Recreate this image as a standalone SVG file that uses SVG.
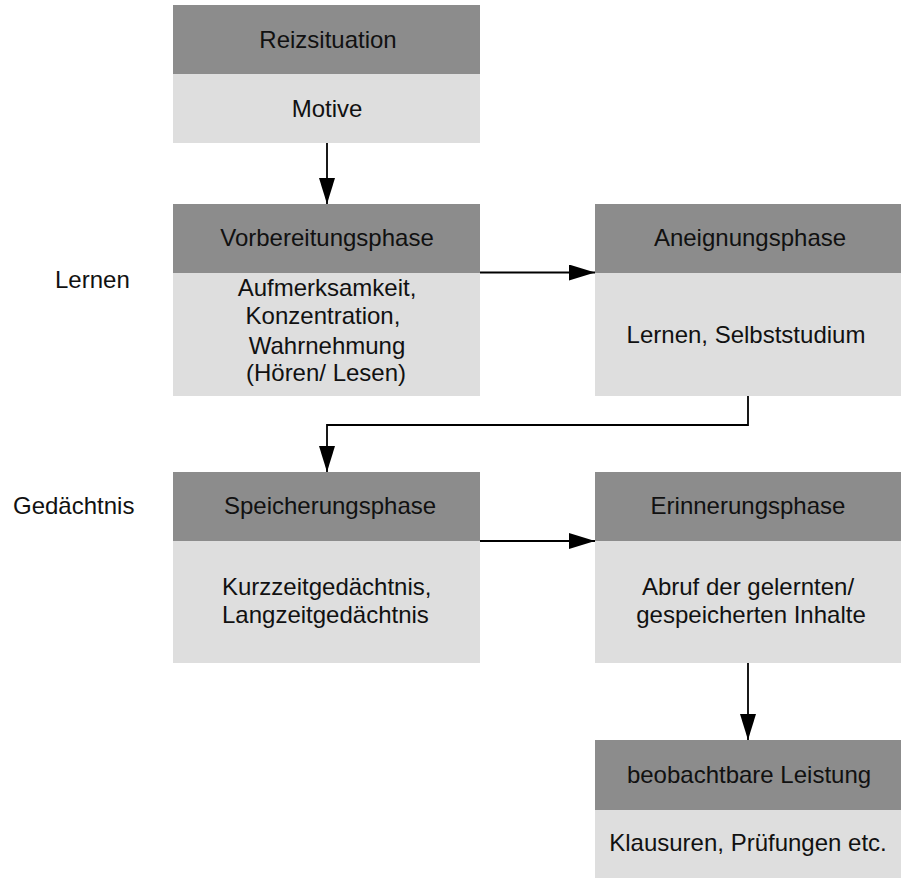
<svg xmlns="http://www.w3.org/2000/svg" width="901" height="878" viewBox="0 0 901 878">
  <style>
    .hd { fill: #8c8c8c; }
    .bd { fill: #dedede; }
    text { font-family: "Liberation Sans", Arial, sans-serif; font-size: 24px; fill: #111; }
    .c { text-anchor: middle; }
    .conn { fill: none; stroke: #000; stroke-width: 1.8; }
  </style>
  <defs>
    <marker id="arrow" markerUnits="userSpaceOnUse" markerWidth="26" markerHeight="16" refX="26" refY="8" orient="auto">
      <path d="M0,0 L26,8 L0,16 Z" fill="#000"/>
    </marker>
  </defs>

  <rect width="901" height="878" fill="#fff"/>

  <!-- side labels -->
  <g id="label-lernen"><text x="55" y="288">Lernen</text></g>
  <g id="label-gedaechtnis"><text x="13" y="514">Gedächtnis</text></g>

  <g id="reizsituation">
    <rect class="hd" x="173" y="5" width="307" height="69"/>
    <rect class="bd" x="173" y="74" width="307" height="69"/>
    <text class="c" x="328" y="48">Reizsituation</text>
    <text class="c" x="327" y="117">Motive</text>
  </g>

  <g id="vorbereitungsphase">
    <rect class="hd" x="173" y="204" width="307" height="69"/>
    <rect class="bd" x="173" y="273" width="307" height="123"/>
    <text class="c" x="327" y="246">Vorbereitungsphase</text>
    <text class="c" x="327" y="296">Aufmerksamkeit,</text>
    <text class="c" x="323" y="324">Konzentration,</text>
    <text class="c" x="327" y="354">Wahrnehmung</text>
    <text class="c" x="326" y="381">(Hören/ Lesen)</text>
  </g>

  <g id="aneignungsphase">
    <rect class="hd" x="595" y="204" width="306" height="69"/>
    <rect class="bd" x="595" y="273" width="306" height="123"/>
    <text class="c" x="750" y="246">Aneignungsphase</text>
    <text class="c" x="746" y="343">Lernen, Selbststudium</text>
  </g>

  <g id="speicherungsphase">
    <rect class="hd" x="173" y="472" width="307" height="69"/>
    <rect class="bd" x="173" y="541" width="307" height="122"/>
    <text class="c" x="330" y="514">Speicherungsphase</text>
    <text x="222" y="595">Kurzzeitgedächtnis,</text>
    <text x="222" y="623">Langzeitgedächtnis</text>
  </g>

  <g id="erinnerungsphase">
    <rect class="hd" x="595" y="472" width="306" height="69"/>
    <rect class="bd" x="595" y="541" width="306" height="122"/>
    <text class="c" x="748" y="514">Erinnerungsphase</text>
    <text class="c" x="748" y="595">Abruf der gelernten/</text>
    <text class="c" x="751" y="623">gespeicherten Inhalte</text>
  </g>

  <g id="leistung">
    <rect class="hd" x="595" y="740" width="306" height="70"/>
    <rect class="bd" x="595" y="810" width="306" height="68"/>
    <text class="c" x="749" y="783">beobachtbare Leistung</text>
    <text class="c" x="748" y="851">Klausuren, Prüfungen etc.</text>
  </g>

  <g id="connectors">
    <path class="conn" d="M327,143 L327,204" marker-end="url(#arrow)"/>
    <path class="conn" d="M480,272.5 L595,272.5" marker-end="url(#arrow)"/>
    <path class="conn" d="M748,396 L748,425 L327,425 L327,472" marker-end="url(#arrow)"/>
    <path class="conn" d="M480,541 L595,541" marker-end="url(#arrow)"/>
    <path class="conn" d="M748,663 L748,740" marker-end="url(#arrow)"/>
  </g>
</svg>
